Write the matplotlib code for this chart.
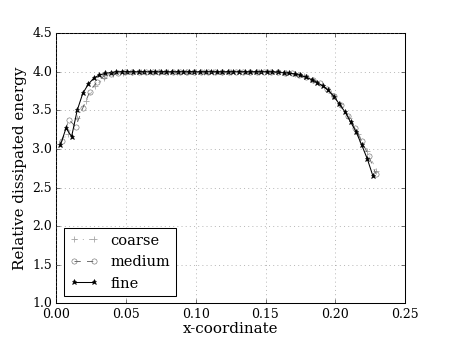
import matplotlib
matplotlib.use('Agg')
import matplotlib.pyplot as plt

# mesh nodes and dissipated energy
x_coarse = [0.002, 0.0085, 0.015, 0.0215, 0.028, 0.0345, 0.041, 0.0475, 0.054, 0.0605,
            0.067, 0.0735, 0.080, 0.0865, 0.093, 0.0995, 0.106, 0.1125, 0.119, 0.1255,
            0.132, 0.1385, 0.145, 0.1515, 0.158, 0.1645, 0.171, 0.1775, 0.184, 0.1905,
            0.197, 0.2035, 0.210, 0.2165, 0.223, 0.2295]
y_coarse = [3.07, 3.20, 3.40, 3.62, 3.82, 3.92, 3.97, 3.99, 4.00, 4.00,
            4.00, 4.00, 4.00, 4.00, 4.00, 4.00, 4.00, 4.00, 4.00, 4.00,
            4.00, 4.00, 4.00, 4.00, 4.00, 3.99, 3.975, 3.95, 3.90, 3.83,
            3.73, 3.58, 3.40, 3.20, 2.98, 2.72]

x_medium = [0.004, 0.009, 0.014, 0.019, 0.024, 0.029, 0.034, 0.039, 0.044, 0.049,
            0.054, 0.059, 0.064, 0.069, 0.074, 0.079, 0.084, 0.089, 0.094, 0.099,
            0.104, 0.109, 0.114, 0.119, 0.124, 0.129, 0.134, 0.139, 0.144, 0.149,
            0.154, 0.159, 0.164, 0.169, 0.174, 0.179, 0.184, 0.189, 0.194, 0.199,
            0.204, 0.209, 0.214, 0.219, 0.224, 0.229]
y_medium = [3.10, 3.38, 3.29, 3.53, 3.74, 3.87, 3.94, 3.975, 3.99, 4.00,
            4.00, 4.00, 4.00, 4.00, 4.00, 4.00, 4.00, 4.00, 4.00, 4.00,
            4.00, 4.00, 4.00, 4.00, 4.00, 4.00, 4.00, 4.00, 4.00, 4.00,
            4.00, 3.995, 3.99, 3.98, 3.96, 3.935, 3.90, 3.85, 3.78, 3.69,
            3.57, 3.43, 3.27, 3.10, 2.91, 2.68]

x_fine = [0.003, 0.007, 0.011, 0.015, 0.019, 0.023, 0.027, 0.031, 0.035, 0.039,
          0.043, 0.047, 0.051, 0.055, 0.059, 0.063, 0.067, 0.071, 0.075, 0.079,
          0.083, 0.087, 0.091, 0.095, 0.099, 0.103, 0.107, 0.111, 0.115, 0.119,
          0.123, 0.127, 0.131, 0.135, 0.139, 0.143, 0.147, 0.151, 0.155, 0.159,
          0.163, 0.167, 0.171, 0.175, 0.179, 0.183, 0.187, 0.191, 0.195, 0.199,
          0.203, 0.207, 0.211, 0.215, 0.219, 0.223, 0.227]
y_fine = [3.05, 3.27, 3.16, 3.50, 3.72, 3.84, 3.92, 3.96, 3.98, 3.99,
          4.00, 4.00, 4.00, 4.00, 4.00, 4.00, 4.00, 4.00, 4.00, 4.00,
          4.00, 4.00, 4.00, 4.00, 4.00, 4.00, 4.00, 4.00, 4.00, 4.00,
          4.00, 4.00, 4.00, 4.00, 4.00, 4.00, 4.00, 4.00, 4.00, 3.995,
          3.99, 3.985, 3.97, 3.955, 3.93, 3.90, 3.86, 3.82, 3.76, 3.68,
          3.58, 3.48, 3.35, 3.22, 3.05, 2.87, 2.65]

plt.style.use('classic')
plt.rcParams['font.family'] = 'serif'
plt.rcParams['font.serif'] = ['DejaVu Serif']

fig = plt.figure(figsize=(6, 4.5), dpi=75)
ax = fig.add_subplot(111)

ax.plot(x_coarse, y_coarse, '-.', color='0.65', marker='+', ms=6, mew=0.8, lw=0.8, label='coarse')
ax.plot(x_medium, y_medium, '--', color='0.35', marker='o', ms=5, mfc='none', mec='0.35', lw=0.8, label='medium')
ax.plot(x_fine, y_fine, '-', color='k', marker='*', ms=5, lw=1.0, label='fine')

ax.set_xlim(0, 0.25)
ax.set_ylim(1.0, 4.5)
ax.set_xlabel('x-coordinate', fontsize=14.5, labelpad=1)
ax.set_ylabel('Relative dissipated energy', fontsize=14.5)
ax.tick_params(labelsize=12)
ax.grid(True, color='0.5', linestyle=':')
ax.legend(loc='lower left', numpoints=2, fontsize=14)

fig.savefig('out.png', dpi=75)
